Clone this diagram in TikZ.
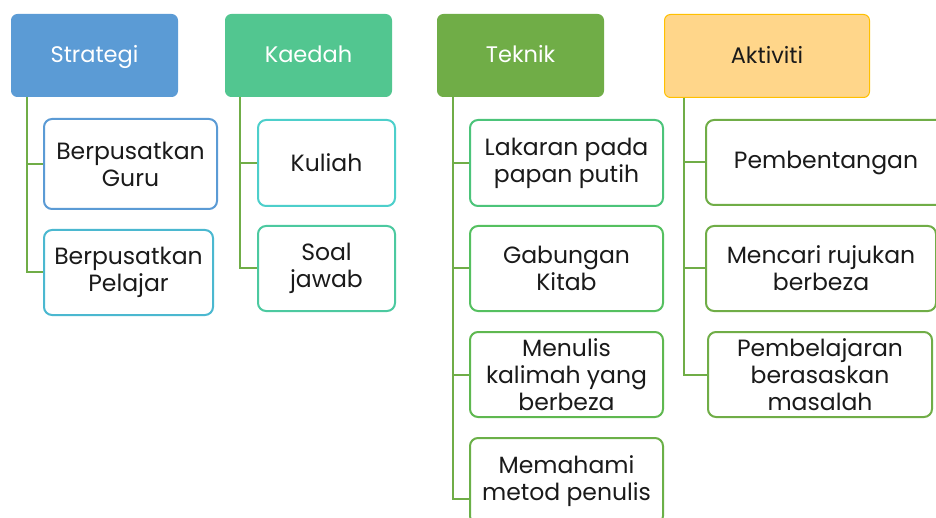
\documentclass[tikz,border=0pt]{standalone}
\usepackage{fontspec}
\setmainfont{Poppins}
\usetikzlibrary{calc}
\definecolor{cblue}{HTML}{5B9BD5}
\definecolor{cteal}{HTML}{52C690}
\definecolor{cgreen}{HTML}{70AD47}
\definecolor{corange}{HTML}{FFD68A}
\definecolor{cgold}{HTML}{FFC000}
\definecolor{bPel}{HTML}{4BB8D0}
\definecolor{bKul}{HTML}{4DCFCB}
\definecolor{bSoal}{HTML}{4CC9A0}
\definecolor{bLak}{HTML}{4CC47A}
\definecolor{bGab}{HTML}{55C060}
\definecolor{bMen}{HTML}{5FB850}
\definecolor{bMem}{HTML}{6BB048}
\definecolor{ctext}{HTML}{1A1A1A}
\tikzset{
  x=1pt, y=-1pt,
  header/.style={rounded corners=6pt, anchor=north west, inner sep=0pt,
    text depth=0pt, text height=15pt,
    font=\fontsize{22.5}{27}\selectfont, text=white, draw=#1, fill=#1, line width=1pt},
  child/.style={rounded corners=8pt, anchor=north west, inner sep=0pt, align=center,
    font=\fontsize{23.5}{27}\selectfont, text=ctext, draw=#1, fill=white, line width=2pt},
  link/.style={draw=cgreen, line width=2pt}
}
\begin{document}
\begin{tikzpicture}
\useasboundingbox (0,0) rectangle (936,518);
% headers
\node[header=cblue, minimum width=166pt, minimum height=82pt] (strat) at (11,14) {Strategi};
\node[header=cteal, minimum width=166pt, minimum height=82pt] (kaed) at (225,14) {Kaedah};
\node[header=cgreen, minimum width=166pt, minimum height=82pt] (tek) at (437,14) {Teknik};
\node[header=cgold, fill=corange, text=ctext, minimum width=205pt, minimum height=83pt] (akt) at (664,14) {Aktiviti};
% Strategi children
\node[child=cblue, minimum width=173pt, minimum height=90pt] (guru) at (43,118) {Berpusatkan\\Guru};
\node[child=bPel, minimum width=169pt, minimum height=85pt] (pel) at (43,229) {Berpusatkan\\Pelajar};
% Kaedah children
\node[child=bKul, minimum width=137pt, minimum height=86pt] (kul) at (257,119) {Kuliah};
\node[child=bSoal, minimum width=137pt, minimum height=85pt] (soal) at (257,225) {Soal\\jawab};
% Teknik children
\node[child=bLak, minimum width=193pt, minimum height=86pt] (lak) at (469,119) {Lakaran pada\\papan putih};
\node[child=bGab, minimum width=193pt, minimum height=85pt] (gab) at (469,225) {Gabungan\\Kitab};
\node[child=bMen, minimum width=193pt, minimum height=85pt] (men) at (469,331) {Menulis\\kalimah yang\\berbeza};
\node[child=bMem, minimum width=193pt, minimum height=86pt] (mem) at (469,437) {Memahami\\metod penulis};
% Aktiviti children
\node[child=cgreen, minimum width=240pt, minimum height=85pt] (pemb) at (705,119) {Pembentangan};
\node[child=cgreen, minimum width=230pt, minimum height=85pt] (menc) at (705,225) {Mencari rujukan\\berbeza};
\node[child=cgreen, minimum width=224pt, minimum height=85pt] (pbl) at (707,331) {Pembelajaran\\berasaskan\\masalah};
% connectors
\draw[link] ($(strat.south west)+(16,0)$) |- (guru.west);
\draw[link] ($(strat.south west)+(16,0)$) |- (pel.west);
\draw[link] ($(kaed.south west)+(15,0)$) |- (kul.west);
\draw[link] ($(kaed.south west)+(15,0)$) |- (soal.west);
\draw[link] ($(tek.south west)+(16,0)$) |- (lak.west);
\draw[link] ($(tek.south west)+(16,0)$) |- (gab.west);
\draw[link] ($(tek.south west)+(16,0)$) |- (men.west);
\draw[link] ($(tek.south west)+(16,0)$) |- ($(mem.west)+(0,18)$);
\draw[link] ($(akt.south west)+(20,0)$) |- (pemb.west);
\draw[link] ($(akt.south west)+(20,0)$) |- (menc.west);
\draw[link] ($(akt.south west)+(20,0)$) |- (pbl.west);
\end{tikzpicture}
\end{document}
